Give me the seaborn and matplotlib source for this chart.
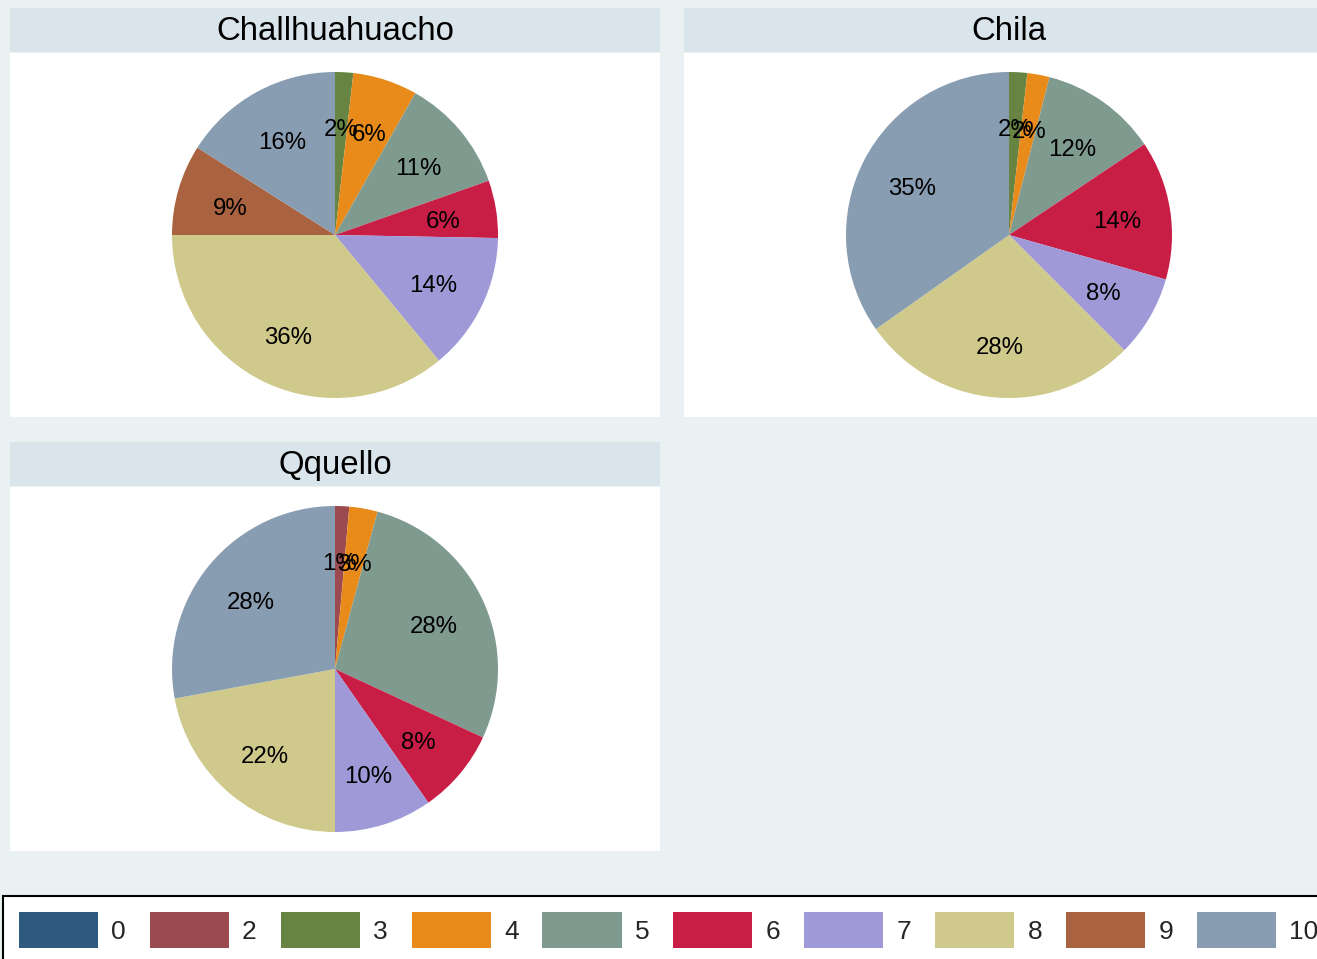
import matplotlib
matplotlib.use("Agg")
import pandas as pd
import matplotlib.pyplot as plt
from matplotlib.patches import Patch
import seaborn as sns

sns.set_theme(style="white")
plt.rcParams["font.family"] = ["Liberation Sans", "DejaVu Sans"]

# categories (legend order) and their colours
CATEGORIES = ["0", "2", "3", "4", "5", "6", "7", "8", "9", "10"]
COLORS = ["#2f5a7f", "#9b4a4f", "#678442", "#e88b1a", "#7f9a8f",
          "#c81e46", "#9f99d7", "#d0c98c", "#a96341", "#889db2"]

# share (%) of each category per site
SITES = ["Challhuahuacho", "Chila", "Qquello"]
CHALLHUAHUACHO = [0, 0, 1.8, 6.4, 11.4, 5.7, 13.7, 36.0, 9.0, 16.0]
CHILA = [0, 0, 1.8, 2.2, 11.6, 13.8, 8.1, 27.7, 0, 34.8]
QQUELLO = [0, 1.4, 0, 2.8, 27.7, 8.4, 9.7, 22.1, 0, 27.9]

OUTER_BG = "#e9f1f3"
STRIP_BG = "#d9e5ea"

W, H = 1317, 959


def px_rect(x0, y0, x1, y1):
    """pixel box (top-left origin) -> figure fraction rect"""
    return [x0 / W, 1 - y1 / H, (x1 - x0) / W, (y1 - y0) / H]


def build_frame() -> pd.DataFrame:
    rows = []
    for site, vals in zip(SITES, [CHALLHUAHUACHO, CHILA, QQUELLO]):
        for cat, v in zip(CATEGORIES, vals):
            rows.append({"site": site, "category": cat, "share": v})
    return pd.DataFrame(rows)


def draw_panel(fig, df, site, x0, y0):
    palette = dict(zip(CATEGORIES, sns.color_palette(COLORS)))

    strip = fig.add_axes(px_rect(x0, y0, x0 + 650, y0 + 44))
    strip.set_facecolor(STRIP_BG)
    strip.set_xticks([])
    strip.set_yticks([])
    for s in strip.spines.values():
        s.set_visible(False)
    strip.text(0.5, 0.46, site, ha="center", va="center", fontsize=23.8,
               color="black", transform=strip.transAxes)

    ax = fig.add_axes(px_rect(x0, y0 + 45, x0 + 650, y0 + 409))
    ax.set_facecolor("white")
    sub = df[(df["site"] == site) & (df["share"] > 0)]
    _, _, autotexts = ax.pie(
        sub["share"], colors=[palette[c] for c in sub["category"]],
        startangle=90, counterclock=False, radius=163,
        autopct=lambda p: f"{p:.0f}%", pctdistance=0.67,
        textprops={"fontsize": 17.3, "color": "black"},
        wedgeprops={"linewidth": 0}, frame=True)
    # Stata sits the labels a touch lower than the slice centre
    for t in autotexts:
        x, y = t.get_position()
        t.set_position((x, y - 4))
    ax.set_xlim(-325, 325)
    ax.set_ylim(-182, 182)
    ax.set_aspect("equal")
    ax.set_xticks([])
    ax.set_yticks([])
    for s in ax.spines.values():
        s.set_visible(False)


def main():
    df = build_frame()
    fig = plt.figure(figsize=(W / 100, H / 100), dpi=100)
    fig.patch.set_facecolor(OUTER_BG)

    draw_panel(fig, df, "Challhuahuacho", 10, 8)
    draw_panel(fig, df, "Chila", 684, 8)
    draw_panel(fig, df, "Qquello", 10, 442)

    handles = [Patch(facecolor=c, edgecolor="none", label=l)
               for l, c in zip(CATEGORIES, COLORS)]
    leg = fig.legend(handles=handles, loc="upper left", ncol=len(CATEGORIES),
                     bbox_to_anchor=(3 / W, 1 - 896 / H), fontsize=19,
                     handlelength=3.0, handleheight=1.75, handletextpad=0.5,
                     columnspacing=0.905, borderpad=0.6, borderaxespad=0,
                     frameon=True, fancybox=False, framealpha=1)
    leg.get_frame().set_edgecolor("black")
    leg.get_frame().set_linewidth(1.5)
    leg.get_frame().set_facecolor("white")

    fig.savefig("out.png", dpi=100, facecolor=OUTER_BG)


if __name__ == "__main__":
    main()
